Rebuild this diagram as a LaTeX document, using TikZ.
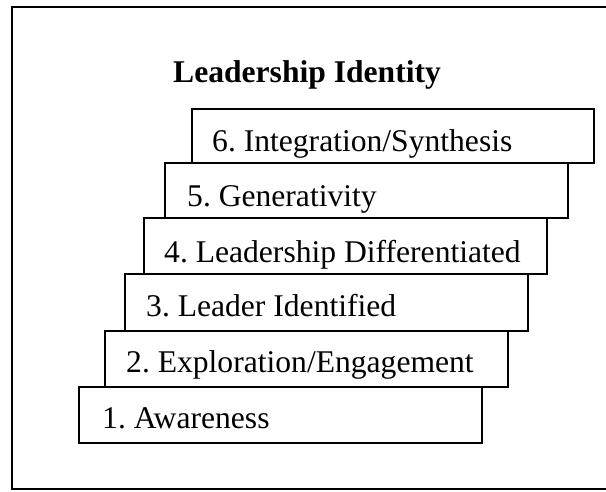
\documentclass[tikz,border=0pt]{standalone}
\usepackage{fontspec}
\setmainfont{Liberation Serif}
\begin{document}
\frenchspacing
\begin{tikzpicture}[x=1pt,y=-1pt,
  frame/.style={draw=black,line width=2pt},
  stepbox/.style={draw=black,fill=white,line width=2pt,anchor=north west,inner sep=0pt,outer sep=0pt},
  lbl/.style={anchor=base west,inner sep=0pt,font=\fontsize{31.6}{36}\selectfont\frenchspacing}]
\useasboundingbox (0,0) rectangle (606,491);
\draw[frame] (12,7) rectangle (625,489);
\node[lbl,font=\fontsize{31.6}{36}\selectfont\bfseries] (title) at (173,82) {Leadership Identity};
% boxes: left, top, width, height
\node[stepbox,minimum width=403pt,minimum height=56pt] (s1) at (79,387) {};
\node[stepbox,minimum width=403pt,minimum height=56pt] (s2) at (105,331) {};
\node[stepbox,minimum width=403pt,minimum height=57pt] (s3) at (125,274) {};
\node[stepbox,minimum width=403pt,minimum height=56pt] (s4) at (144,218) {};
\node[stepbox,minimum width=403pt,minimum height=55pt] (s5) at (165,163) {};
\node[stepbox,minimum width=402pt,minimum height=54pt] (s6) at (192,109) {};
\node[lbl] (t1) at (102,428) {1. Awareness};
\node[lbl] (t2) at (126,372) {2. Exploration/Engagement};
\node[lbl] (t3) at (146,316) {3. Leader Identified};
\node[lbl] (t4) at (164,262) {4. Leadership Differentiated};
\node[lbl] (t5) at (187,206) {5. Generativity};
\node[lbl] (t6) at (212,151) {6. Integration/Synthesis};
\end{tikzpicture}
\end{document}
